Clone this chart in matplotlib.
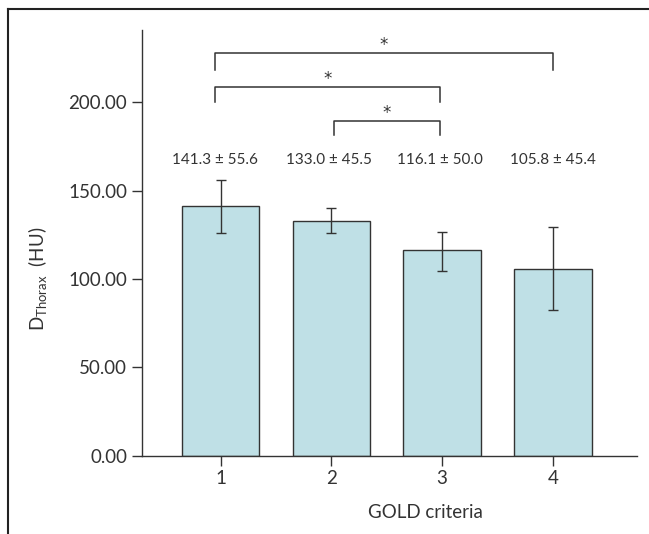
import matplotlib
matplotlib.use('Agg')
import matplotlib.pyplot as plt
from matplotlib.lines import Line2D

plt.rcParams['font.family'] = ['Lato', 'DejaVu Sans']
plt.rcParams['mathtext.fontset'] = 'custom'
plt.rcParams['mathtext.rm'] = 'Lato'

# data
groups = [1, 2, 3, 4]
means = [141.3, 133.0, 116.1, 105.8]
err_low = [126.2, 126.0, 104.6, 82.5]
err_high = [156.1, 139.9, 126.8, 129.1]
labels = ['141.3 ± 55.6', '133.0 ± 45.5', '116.1 ± 50.0', '105.8 ± 45.4']
yticks = [0, 50, 100, 150, 200]

# significance brackets: (left, right, height, leg)
brackets = [(0.95, 4.0, 228, 9.6), (0.95, 2.98, 208.3, 8), (2.02, 2.98, 189.4, 8)]
label_x = [0.95, 1.98, 2.98, 4.0]

ink = '#333333'
fig = plt.figure(figsize=(6.49, 5.34), dpi=100)
ax = fig.add_axes([0.2182, 0.1466, 0.7633, 0.7979])

yerr = [[m - lo for m, lo in zip(means, err_low)],
        [hi - m for m, hi in zip(means, err_high)]]
ax.bar(groups, means, width=0.7, color='#bfe0e6', edgecolor=ink, linewidth=1,
       yerr=yerr, error_kw=dict(ecolor=ink, elinewidth=1, capsize=3.5, capthick=1))

for (a, b, h, leg) in brackets:
    ax.plot([a, a, b, b], [h - leg, h, h, h - leg], color=ink, lw=1.1)
    ax.text((a + b) / 2, h + 1.7, '*', ha='center', va='baseline', fontsize=12,
            color=ink, family='DejaVu Sans')

for x, t in zip(label_x, labels):
    ax.text(x, 167, t, ha='center', va='center', fontsize=11, color=ink)

ax.set_xlim(0.286, 4.76)
ax.set_ylim(0, 241)
ax.set_yticks(yticks)
ax.set_yticklabels(['%.2f' % v for v in yticks])
ax.set_xticks(groups)
ax.tick_params(axis='both', colors=ink, labelsize=13.5, length=7, width=1)
for s in ['top', 'right']:
    ax.spines[s].set_visible(False)
for s in ['left', 'bottom']:
    ax.spines[s].set_color(ink)
    ax.spines[s].set_linewidth(1)
ax.set_ylabel(r'D$_{\mathregular{Thorax}}$  (HU)', fontsize=13.5, color=ink)
ax.yaxis.set_label_coords(-0.185, 0.414)
ax.set_xlabel('GOLD criteria', fontsize=13.5, color=ink)
ax.xaxis.set_label_coords(0.572, -0.114)

# frame of the figure, left and top edges only
fig.add_artist(Line2D([0.013, 0.013], [0, 0.984], color='#222222', lw=1.5, transform=fig.transFigure))
fig.add_artist(Line2D([0.013, 1], [0.984, 0.984], color='#222222', lw=1.5, transform=fig.transFigure))

fig.savefig('out.png', dpi=100)
